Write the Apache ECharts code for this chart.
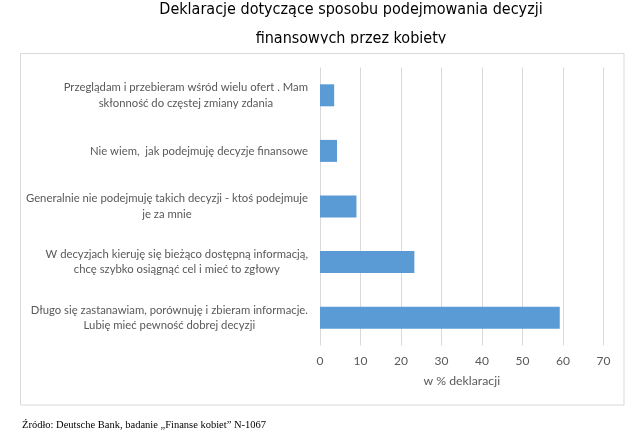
<!DOCTYPE html>
<html style="height: 100%">
  <head>
    <meta charset="utf-8" />
    <title>Deklaracje</title>
    <script src="https://cdn.jsdelivr.net/npm/echarts@6/dist/echarts.min.js"></script>
  </head>
  <body style="height: 100%; margin: 0; background: #fff">
    <div id="container" style="width: 640px; height: 438px"></div>
    <script type="text/javascript">
      // categories (top to bottom) and values in %
      const categories = [
        "Przeglądam i przebieram wśród wielu ofert . Mam\nskłonność do częstej zmiany zdania",
        "Nie wiem,  jak podejmuję decyzje finansowe",
        "Generalnie nie podejmuję takich decyzji - ktoś podejmuje\nje za mnie",
        "W decyzjach kieruję się bieżąco dostępną informacją,\nchcę szybko osiągnąć cel i mieć to zgłowy",
        "Długo się zastanawiam, porównuję i zbieram informacje.\nLubię mieć pewność dobrej decyzji",
      ];
      const values = [3.5, 4.2, 9.0, 23.3, 59.2];
      const titleLines = [
        "Deklaracje dotyczące sposobu podejmowania decyzji",
        "finansowych przez kobiety",
      ];
      const axisName = "w % deklaracji";
      const sourceText = "Źródło: Deutsche Bank, badanie „Finanse kobiet” N-1067";

      const narrow = '"DejaVu Sans Condensed", "DejaVu Sans", sans-serif';
      const calibri = 'Lato, "Open Sans", sans-serif';

      let dom = document.getElementById("container");
      let chart = echarts.init(dom);
      chart.setOption({
        backgroundColor: "#fff",
        animation: false,
        title: {
          text: titleLines.join("\n"),
          left: 351,
          top: -5,
          padding: 0,
          textAlign: "center",
          textStyle: {
            fontFamily: narrow,
            fontSize: 16,
            fontWeight: "normal",
            color: "#000",
            lineHeight: 29,
          },
        },
        graphic: [
          {
            // the second title line is cut off by the chart frame in the source
            type: "rect",
            shape: { x: 150, y: 43.5, width: 420, height: 9.5 },
            style: { fill: "#fff" },
            z: 100,
          },
          {
            type: "rect",
            shape: { x: 20.5, y: 53.5, width: 603.5, height: 351.5 },
            style: { fill: "none", stroke: "#d9d9d9", lineWidth: 1 },
            z: 101,
          },
          {
            type: "text",
            left: 22,
            top: 419.5,
            style: {
              text: sourceText,
              fontFamily: '"Liberation Serif", serif',
              fontSize: 10.5,
              fill: "#000",
            },
          },
        ],
        grid: { left: 320, right: 36.5, top: 67.5, bottom: 92.5 },
        xAxis: {
          type: "value",
          min: 0,
          max: 70,
          interval: 10,
          name: axisName,
          nameLocation: "middle",
          nameGap: 29.5,
          nameTextStyle: { color: "#595959", fontSize: 12.3, fontFamily: calibri },
          axisLine: { show: false },
          axisTick: { show: false },
          axisLabel: { color: "#595959", fontSize: 12, margin: 10, fontFamily: calibri },
          splitLine: { show: true, lineStyle: { color: "#d9d9d9", width: 1 } },
        },
        yAxis: {
          type: "category",
          inverse: true,
          data: categories,
          axisLine: { show: false },
          axisTick: { show: false },
          axisLabel: {
            margin: 12,
            formatter: function (v) {
              return v
                .split("\n")
                .map((l) => "{c|" + l + "}")
                .join("\n");
            },
            rich: {
              c: {
                align: "center",
                color: "#595959",
                fontSize: 11.3,
                lineHeight: 15.5,
                fontFamily: calibri,
              },
            },
          },
        },
        series: [
          {
            type: "bar",
            data: values,
            barWidth: 22,
            itemStyle: { color: "#5b9bd5" },
          },
        ],
      });
    </script>
  </body>
</html>
